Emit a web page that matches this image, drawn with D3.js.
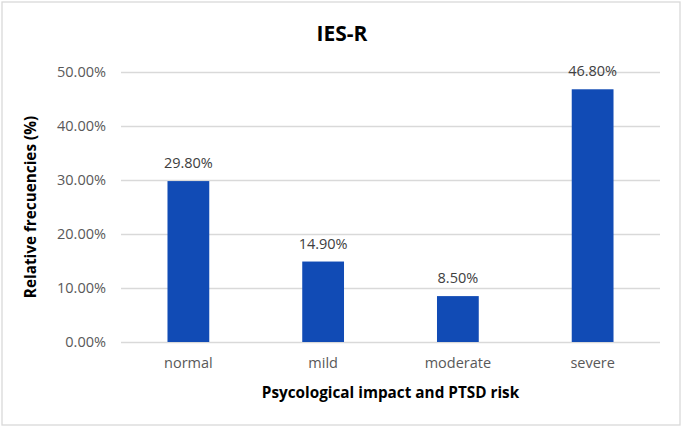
<!DOCTYPE html>
<html><head><meta charset="utf-8">
<script src="https://cdn.jsdelivr.net/npm/d3@7"></script>
<style>body{margin:0;background:#fff}svg{display:block}</style>
</head><body>
<script>
const categories = ["normal", "mild", "moderate", "severe"];
const values = [29.8, 14.9, 8.5, 46.8];
const yTicks = [0, 10, 20, 30, 40, 50];
const title = "IES-R";
const xTitle = "Psycological impact and PTSD risk";
const yTitle = "Relative frecuencies (%)";

const W = 683, H = 428;
const m = {left: 121, right: 23, top: 72, bottom: 86};
const font = "'Open Sans', 'Noto Sans', sans-serif";
const svg = d3.select("body").append("svg").attr("width", W).attr("height", H);

svg.append("rect").attr("x", 2).attr("y", 2).attr("width", 678).attr("height", 423)
  .attr("fill", "#fff").attr("stroke", "#d9d9d9").attr("stroke-width", 1.3);

const x = d3.scaleBand().domain(categories).range([m.left, W - m.right])
  .paddingInner(0.69).paddingOuter(0.345);
const y = d3.scaleLinear().domain([0, 50]).range([H - m.bottom, m.top]);

const yAxis = svg.append("g").attr("transform", `translate(${m.left},0)`)
  .call(d3.axisLeft(y).tickValues(yTicks).tickSize(-(W - m.left - m.right)).tickPadding(15)
    .tickFormat(d => d.toFixed(2) + "%"));
yAxis.select(".domain").remove();
yAxis.selectAll("line").attr("stroke", "#d9d9d9").attr("stroke-width", 1.3);
yAxis.selectAll("text").attr("fill", "#595959").attr("font-family", font).attr("font-size", 14.5);

const xAxis = svg.append("g").attr("transform", `translate(0,${H - m.bottom})`)
  .call(d3.axisBottom(x).tickSize(0).tickPadding(16));
xAxis.select(".domain").remove();
xAxis.selectAll("text").attr("fill", "#595959").attr("font-family", font).attr("font-size", 14.5);

svg.append("g").selectAll("rect").data(values).join("rect")
  .attr("x", (d, i) => x(categories[i]))
  .attr("width", x.bandwidth())
  .attr("y", d => y(d))
  .attr("height", d => y(0) - y(d))
  .attr("fill", "#114bb5");

svg.append("g").selectAll("text").data(values).join("text")
  .attr("x", (d, i) => x(categories[i]) + x.bandwidth() / 2)
  .attr("y", d => y(d) - 13)
  .attr("text-anchor", "middle")
  .attr("fill", "#404040").attr("font-family", font).attr("font-size", 14.5)
  .text(d => d.toFixed(2) + "%");

svg.append("text").attr("x", 342).attr("y", 41).attr("text-anchor", "middle")
  .attr("font-family", font).attr("font-weight", "bold").attr("font-size", 21)
  .attr("fill", "#000").text(title);

svg.append("text").attr("x", (m.left + W - m.right) / 2).attr("y", 398).attr("text-anchor", "middle")
  .attr("font-family", font).attr("font-weight", "bold").attr("font-size", 15.3)
  .attr("fill", "#000").text(xTitle);

svg.append("text").attr("transform", `translate(36,${(y(0) + y(50)) / 2}) rotate(-90)`)
  .attr("text-anchor", "middle")
  .attr("font-family", font).attr("font-weight", "bold").attr("font-size", 15.3)
  .attr("fill", "#000").text(yTitle);
</script>
</body></html>
